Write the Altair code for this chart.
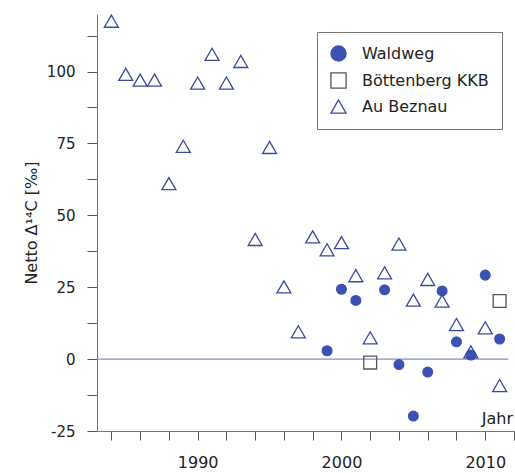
import altair as alt
import pandas as pd

# Au Beznau (triangles)
au_years = [1984, 1985, 1986, 1987, 1988, 1989, 1990, 1991, 1992, 1993, 1994, 1995,
            1996, 1997, 1998, 1999, 2000, 2001, 2002, 2003, 2004, 2005, 2006, 2007,
            2008, 2009, 2010, 2011]
au_vals = [117.5, 99, 97, 97, 61, 74, 96, 106, 96, 103.5, 41.6, 73.6,
           25.1, 9.5, 42.5, 38, 40.5, 29, 7.4, 30, 40, 20.5, 27.7, 20.2,
           12, 2.5, 10.9, -9.2]

# Waldweg (filled circles)
wald_years = [1999, 2000, 2001, 2003, 2004, 2005, 2006, 2007, 2008, 2009, 2010, 2011]
wald_vals = [2.9, 24.3, 20.4, 24.1, -1.9, -19.8, -4.5, 23.7, 6, 1.4, 29.2, 7]

# Böttenberg KKB (squares)
bott_years = [2002, 2011]
bott_vals = [-1.2, 20.2]

series_names = ["Waldweg", "Böttenberg KKB", "Au Beznau"]

rows = []
for y, v in zip(wald_years, wald_vals):
    rows.append({"Jahr": y, "Wert": v, "Serie": "Waldweg"})
for y, v in zip(bott_years, bott_vals):
    rows.append({"Jahr": y, "Wert": v, "Serie": "Böttenberg KKB"})
for y, v in zip(au_years, au_vals):
    rows.append({"Jahr": y, "Wert": v, "Serie": "Au Beznau"})
df = pd.DataFrame(rows)

x_ticks = list(range(1984, 2013, 2))
y_ticks = [-25 + 12.5 * i for i in range(12)]

FONT = "DejaVu Sans"
BLUE = "#3c52b2"
TRI = "#3b4a9c"

xscale = alt.Scale(domain=[1983, 2012], nice=False, zero=False)
yscale = alt.Scale(domain=[-25, 120], nice=False, zero=False)

x_enc = alt.X("Jahr:Q", scale=xscale,
              axis=alt.Axis(values=x_ticks, tickCount=len(x_ticks) + 5, title=None, grid=False,
                            labelExpr="datum.value % 10 == 0 ? datum.label : ''",
                            format="d", tickSize=9, labelPadding=14, labelOverlap=False,
                            domainColor="#777", tickColor="#555",
                            labelFontSize=16, labelColor="#222", labelFont=FONT))
y_enc = alt.Y("Wert:Q", scale=yscale,
              axis=alt.Axis(values=y_ticks, tickCount=len(y_ticks) + 5,
                            title="Netto Δ¹⁴C [‰]", grid=False,
                            labelExpr="datum.value % 25 == 0 ? replace(datum.label, '−', '-') : ''",
                            tickSize=10, labelPadding=12, labelOverlap=False,
                            domainColor="#777", tickColor="#555",
                            labelFontSize=15, labelColor="#222", labelFont=FONT,
                            titleFont=FONT, titleFontSize=16, titleFontWeight="normal",
                            titleColor="#222", titlePadding=7))
shape_enc = alt.Shape("Serie:N",
                      scale=alt.Scale(domain=series_names,
                                      range=["circle", "square", "triangle-up"]),
                      legend=alt.Legend(title=None, orient="none", legendX=220, legendY=18,
                                        labelFont=FONT, labelFontSize=16, labelColor="#222",
                                        symbolSize=230, symbolStrokeWidth=1.3,
                                        padding=13, rowPadding=6, labelOffset=15,
                                        strokeColor="#777", fillColor="white",
                                        cornerRadius=0))
fill_enc = alt.Fill("Serie:N",
                    scale=alt.Scale(domain=series_names,
                                    range=[BLUE, "transparent", "transparent"]))
stroke_enc = alt.Stroke("Serie:N",
                        scale=alt.Scale(domain=series_names,
                                        range=[BLUE, "#555555", TRI]))

sizes = {"Waldweg": 95, "Böttenberg KKB": 165, "Au Beznau": 195}
layers = []
for name in series_names:
    layers.append(
        alt.Chart(df).transform_filter(alt.datum.Serie == name)
        .mark_point(filled=False, strokeWidth=1.3, opacity=1, size=sizes[name])
        .encode(x=x_enc, y=y_enc, shape=shape_enc, fill=fill_enc, stroke=stroke_enc)
    )

zero_df = pd.DataFrame({"x": [1983], "x2": [2011.6], "y": [0]})
zero = alt.Chart(zero_df).mark_rule(color="#7f92c6", strokeWidth=1.3).encode(
    x=alt.X("x:Q", scale=xscale), x2="x2:Q", y=alt.Y("y:Q", scale=yscale))

label_df = pd.DataFrame({"x": [2012], "y": [-21], "t": ["Jahr"]})
jahr = alt.Chart(label_df).mark_text(align="right", baseline="middle", font=FONT,
                                      fontSize=16, color="#222", dx=-1).encode(
    x=alt.X("x:Q", scale=xscale), y=alt.Y("y:Q", scale=yscale), text="t:N")

chart = alt.layer(zero, *layers, jahr).properties(
    width=417, height=417,
    autosize=alt.AutoSizeParams(type="none"),
    padding={"left": 97, "top": 14, "right": 1, "bottom": 42},
    background="white",
).configure_view(stroke=None)

chart.save("out.html", embed_options={"renderer": "svg", "actions": False})
